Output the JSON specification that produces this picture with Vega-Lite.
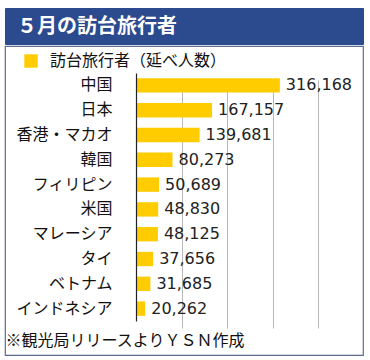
{
  "$schema": "https://vega.github.io/schema/vega-lite/v6.json",
  "padding": {"left": 4, "top": 7, "right": 0, "bottom": 0},
  "background": "white",
  "spacing": 0,
  "config": {
    "font": "Noto Sans CJK JP",
    "concat": {"spacing": 0}
  },
  "vconcat": [
    {
      "width": 358,
      "height": 36,
      "view": {"fill": "#2C4A8E", "stroke": "#2C4A8E"},
      "data": {"values": [{"t": "５月の訪台旅行者"}]},
      "mark": {"type": "text", "align": "left", "baseline": "middle", "fontSize": 20, "fontWeight": "bold", "color": "white", "font": "Noto Sans CJK JP"},
      "encoding": {
        "text": {"field": "t"},
        "x": {"value": 12},
        "y": {"value": 19}
      }
    },
    {
      "width": 358,
      "height": 309,
      "view": {"fill": "white", "stroke": "#5D6B8C", "strokeWidth": 1.2},
      "data": {"values": [
        {"c": "中国", "v": 316168, "s": "訪台旅行者（延べ人数）"},
        {"c": "日本", "v": 167157, "s": "訪台旅行者（延べ人数）"},
        {"c": "香港・マカオ", "v": 139681, "s": "訪台旅行者（延べ人数）"},
        {"c": "韓国", "v": 80273, "s": "訪台旅行者（延べ人数）"},
        {"c": "フィリピン", "v": 50689, "s": "訪台旅行者（延べ人数）"},
        {"c": "米国", "v": 48830, "s": "訪台旅行者（延べ人数）"},
        {"c": "マレーシア", "v": 48125, "s": "訪台旅行者（延べ人数）"},
        {"c": "タイ", "v": 37656, "s": "訪台旅行者（延べ人数）"},
        {"c": "ベトナム", "v": 31685, "s": "訪台旅行者（延べ人数）"},
        {"c": "インドネシア", "v": 20262, "s": "訪台旅行者（延べ人数）"}
      ]},
      "encoding": {
        "y": {
          "field": "c", "type": "nominal", "sort": null,
          "scale": {"range": [27, 275], "paddingInner": 0.42, "paddingOuter": 0.21},
          "axis": {
            "title": null, "offset": -131, "ticks": false,
            "domainColor": "#222", "domainWidth": 1.2,
            "labelFontSize": 16, "labelColor": "#111", "labelPadding": 24,
            "labelFont": "Noto Sans CJK JP", "grid": false, "zindex": 2
          }
        },
        "x": {
          "field": "v", "type": "quantitative",
          "scale": {"domain": [0, 400000], "range": [131, 313], "nice": false},
          "axis": {
            "values": [100000, 200000, 300000, 400000],
            "grid": true, "gridColor": "#B8B8B8", "gridWidth": 1,
            "labels": false, "ticks": false, "domain": false,
            "title": "※観光局リリースよりＹＳＮ作成",
            "titleFont": "Noto Sans CJK JP", "titleFontSize": 16, "titleFontWeight": "normal",
            "titleColor": "#111", "titleAlign": "left", "titleBaseline": "middle",
            "titleX": 0, "titleY": -15, "zindex": 0
          }
        }
      },
      "layer": [
        {
          "mark": {"type": "bar"},
          "encoding": {
            "color": {
              "field": "s", "type": "nominal",
              "scale": {"range": ["#FFCC00"]},
              "legend": {
                "title": null, "orient": "none", "legendX": 18, "legendY": 45,
                "symbolType": "square", "symbolSize": 180, "symbolStrokeWidth": 0,
                "labelFontSize": 16, "labelColor": "#111", "labelFont": "Noto Sans CJK JP",
                "labelOffset": 11, "labelLimit": 400
              }
            }
          }
        },
        {
          "mark": {"type": "text", "align": "left", "baseline": "middle", "dx": 6, "fontSize": 16, "color": "#222", "font": "DejaVu Sans"},
          "encoding": {
            "text": {"field": "v", "type": "quantitative", "format": ","}
          }
        }
      ]
    }
  ]
}
